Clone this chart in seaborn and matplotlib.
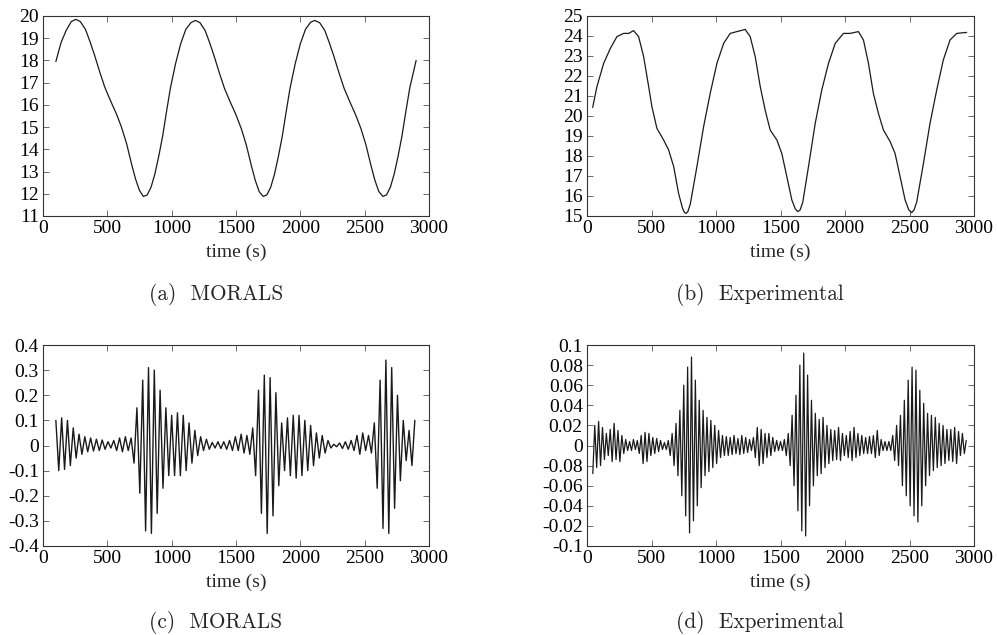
import numpy as np
import matplotlib
matplotlib.use("Agg")
import matplotlib.pyplot as plt
import seaborn as sns

# ─── (a) MORALS, temperature-like trace ─────────────────────────────────────
a_time = [100, 140, 180, 220, 255, 290, 330, 365, 400, 440, 480, 520, 570, 610,
          650, 690, 720, 750, 780, 810, 840, 870, 900, 930, 960, 990, 1030, 1070,
          1110, 1150, 1185, 1220, 1260, 1295, 1330, 1370, 1410, 1450, 1500, 1540,
          1580, 1620, 1650, 1680, 1712, 1740, 1770, 1800, 1830, 1860, 1890, 1920,
          1960, 2000, 2040, 2080, 2112, 2150, 2190, 2225, 2260, 2300, 2340, 2380,
          2430, 2470, 2510, 2550, 2580, 2610, 2642, 2670, 2700, 2730, 2760, 2790,
          2820, 2850, 2880, 2900]
a_vals = [17.95, 18.8, 19.35, 19.75, 19.85, 19.75, 19.4, 18.85, 18.25, 17.5, 16.8,
          16.25, 15.6, 15.0, 14.25, 13.3, 12.65, 12.15, 11.88, 11.95, 12.3, 12.9,
          13.7, 14.6, 15.7, 16.75, 17.85, 18.75, 19.4, 19.7, 19.8, 19.7, 19.35,
          18.8, 18.2, 17.45, 16.75, 16.2, 15.55, 14.95, 14.2, 13.25, 12.6, 12.1,
          11.88, 11.95, 12.3, 12.9, 13.7, 14.6, 15.7, 16.75, 17.85, 18.75, 19.4,
          19.72, 19.8, 19.7, 19.35, 18.8, 18.2, 17.45, 16.75, 16.2, 15.55, 14.95,
          14.2, 13.25, 12.6, 12.1, 11.88, 11.95, 12.3, 12.9, 13.7, 14.6, 15.7,
          16.75, 17.5, 18.0]

# ─── (b) Experimental trace ─────────────────────────────────────────────────
b_time = [44, 77, 129, 181, 232, 284, 323, 361, 400, 439, 478, 503, 542, 594, 633,
          672, 710, 740, 755, 768, 782, 801, 852, 904, 955, 1007, 1059, 1110, 1162,
          1226, 1265, 1304, 1343, 1381, 1420, 1472, 1510, 1549, 1588, 1615, 1634,
          1652, 1673, 1717, 1769, 1820, 1872, 1924, 1988, 2040, 2104, 2143, 2182,
          2220, 2259, 2298, 2350, 2388, 2427, 2466, 2495, 2517, 2535, 2556, 2608,
          2659, 2711, 2762, 2814, 2866, 2943]
b_vals = [20.43, 21.47, 22.63, 23.38, 23.97, 24.13, 24.13, 24.27, 23.97, 22.97,
          21.47, 20.47, 19.38, 18.8, 18.3, 17.47, 16.13, 15.4, 15.18, 15.13, 15.22,
          15.6, 17.47, 19.47, 21.13, 22.63, 23.63, 24.13, 24.22, 24.33, 23.97,
          22.97, 21.47, 20.3, 19.3, 18.8, 18.13, 16.97, 15.8, 15.35, 15.22, 15.3,
          15.7, 17.47, 19.63, 21.3, 22.63, 23.63, 24.13, 24.13, 24.22, 23.8, 22.63,
          21.13, 20.13, 19.3, 18.72, 18.13, 16.97, 15.8, 15.3, 15.17, 15.3, 15.7,
          17.63, 19.63, 21.3, 22.8, 23.8, 24.13, 24.18]

# ─── (c) MORALS oscillation: successive extrema, sampled every C_DT s ───────
C_T0, C_DT = 100.0, 22.5
c_vals = [0.10, -0.10, 0.11, -0.095, 0.10, -0.08, 0.07, -0.05, 0.045, -0.035,
          0.035, -0.025, 0.03, -0.022, 0.025, -0.02, 0.022, -0.015, 0.015, -0.01,
          0.02, -0.02, 0.03, -0.025, 0.035, -0.02, 0.03, -0.07, 0.15, -0.19,
          0.26, -0.34, 0.31, -0.35, 0.30, -0.27, 0.22, -0.17, 0.15, -0.12,
          0.12, -0.12, 0.13, -0.12, 0.12, -0.10, 0.09, -0.07, 0.06, -0.04,
          0.035, -0.02, 0.025, -0.015, 0.012, -0.01, 0.015, -0.012, 0.015, -0.015,
          0.02, -0.02, 0.035, -0.02, 0.045, -0.03, 0.04, -0.035, 0.07, -0.12,
          0.22, -0.27, 0.28, -0.35, 0.27, -0.28, 0.21, -0.16, 0.09, -0.10,
          0.11, -0.12, 0.12, -0.13, 0.12, -0.12, 0.10, -0.10, 0.08, -0.08,
          0.05, -0.05, 0.04, -0.03, 0.02, -0.01, 0.005, -0.005, 0.01, -0.012,
          0.015, -0.015, 0.02, -0.02, 0.04, -0.035, 0.05, -0.02, 0.04, -0.03,
          0.09, -0.17, 0.26, -0.33, 0.34, -0.35, 0.31, -0.25, 0.20, -0.14,
          0.10, -0.06, 0.06, -0.08, 0.10]

# ─── (d) Experimental oscillation: successive extrema, every D_DT s ─────────
D_T0, D_DT = 45.0, 15.0
d_vals = [-0.028, 0.020, -0.022, 0.024, -0.020, 0.018, -0.014, 0.012, -0.010, 0.016,
          -0.016, 0.022, -0.014, 0.015, -0.016, 0.010, -0.008, 0.006, -0.005, 0.004,
          -0.005, 0.006, -0.004, 0.005, -0.008, 0.010, -0.018, 0.013, -0.016, 0.012,
          -0.010, 0.008, -0.008, 0.007, -0.006, 0.005, -0.004, 0.003, -0.004, 0.005,
          -0.010, 0.012, -0.020, 0.022, -0.030, 0.035, -0.050, 0.060, -0.070, 0.078,
          -0.087, 0.088, -0.075, 0.065, -0.060, 0.045, -0.042, 0.035, -0.030, 0.028,
          -0.026, 0.025, -0.022, 0.020, -0.018, 0.015, -0.012, 0.010, -0.010, 0.009,
          -0.010, 0.008, -0.009, 0.010, -0.008, 0.007, -0.009, 0.010, -0.008, 0.008,
          -0.007, 0.006, -0.005, 0.008, -0.012, 0.018, -0.020, 0.016, -0.018, 0.012,
          -0.012, 0.012, -0.010, 0.008, -0.006, 0.005, -0.005, 0.004, -0.005, 0.006,
          -0.010, 0.012, -0.020, 0.030, -0.040, 0.050, -0.065, 0.080, -0.085, 0.092,
          -0.090, 0.070, -0.060, 0.045, -0.040, 0.032, -0.030, 0.026, -0.028, 0.028,
          -0.022, 0.020, -0.018, 0.016, -0.015, 0.015, -0.014, 0.018, -0.015, 0.012,
          -0.010, 0.010, -0.012, 0.014, -0.015, 0.018, -0.012, 0.012, -0.010, 0.010,
          -0.008, 0.008, -0.008, 0.009, -0.008, 0.010, -0.012, 0.015, -0.010, 0.006,
          -0.005, 0.004, -0.005, 0.004, -0.005, 0.010, -0.015, 0.020, -0.020, 0.030,
          -0.040, 0.045, -0.050, 0.065, -0.060, 0.078, -0.070, 0.075, -0.076, 0.055,
          -0.060, 0.042, -0.040, 0.032, -0.030, 0.030, -0.025, 0.028, -0.022, 0.022,
          -0.020, 0.020, -0.018, 0.016, -0.015, 0.016, -0.016, 0.018, -0.018, 0.014,
          -0.010, 0.012, -0.008, 0.005]

x_ticks = [0, 500, 1000, 1500, 2000, 2500, 3000]
c_ytick_labels = ["-0.4", "-0.3", "-0.2", "-0.1", "0", "0.1", "0.2", "0.3", "0.4"]
d_ytick_labels = ["-0.1", "-0.02", "-0.04", "-0.06", "-0.08", "0",
                  "0.02", "0.04", "0.06", "0.08", "0.1"]
captions = ["(a)  MORALS", "(b)  Experimental", "(c)  MORALS", "(d)  Experimental"]

sns.set_theme(style="ticks")
plt.rcParams["font.family"] = ["Liberation Serif", "DejaVu Serif"]
plt.rcParams["axes.unicode_minus"] = False

W, H = 997, 635
fig = plt.figure(figsize=(W / 100, H / 100), dpi=100)

# axes boxes in pixels: left, top, right, bottom
boxes = [(43, 16, 429, 216), (587, 16, 974, 216),
         (43, 345, 429, 546), (587, 345, 974, 546)]
axes = []
for l, t, r, b in boxes:
    axes.append(fig.add_axes([l / W, 1 - b / H, (r - l) / W, (b - t) / H]))

c_time = C_T0 + C_DT * np.arange(len(c_vals))
d_time = D_T0 + D_DT * np.arange(len(d_vals))

series = [(a_time, a_vals), (b_time, b_vals), (c_time, c_vals), (d_time, d_vals)]
ylims = [(11, 20), (15, 25), (-0.4, 0.4), (-0.1, 0.1)]
lws = [0.9, 0.9, 1.0, 0.9]

for ax, (x, y), lim, lw in zip(axes, series, ylims, lws):
    sns.lineplot(x=x, y=y, ax=ax, color="#1a1a1a", linewidth=lw, estimator=None)
    ax.set_xlim(0, 3000)
    ax.set_ylim(*lim)
    ax.set_xticks(x_ticks)
    ax.set_xlabel("time (s)", fontsize=14, labelpad=5)
    ax.set_ylabel("")
    ax.tick_params(direction="in", top=True, right=True, length=4, width=0.6,
                   labelsize=14, pad=3, colors="#555555", labelcolor="black")
    for sp in ax.spines.values():
        sp.set_linewidth(0.8)
        sp.set_color("#333333")

axes[0].set_yticks(range(11, 21))
axes[1].set_yticks(range(15, 26))
axes[2].set_yticks(np.linspace(-0.4, 0.4, 9))
axes[2].set_yticklabels(c_ytick_labels)
axes[3].set_yticks(np.linspace(-0.1, 0.1, 11))
axes[3].set_yticklabels(d_ytick_labels)

cap_pos = [(216, 294), (760, 294), (216, 622), (760, 622)]
for (cx, cy), txt in zip(cap_pos, captions):
    fig.text(cx / W, 1 - cy / H, txt, ha="center", va="center",
             fontsize=15.3, family=["cmr10", "DejaVu Serif"])

fig.savefig("out.png", dpi=100)
